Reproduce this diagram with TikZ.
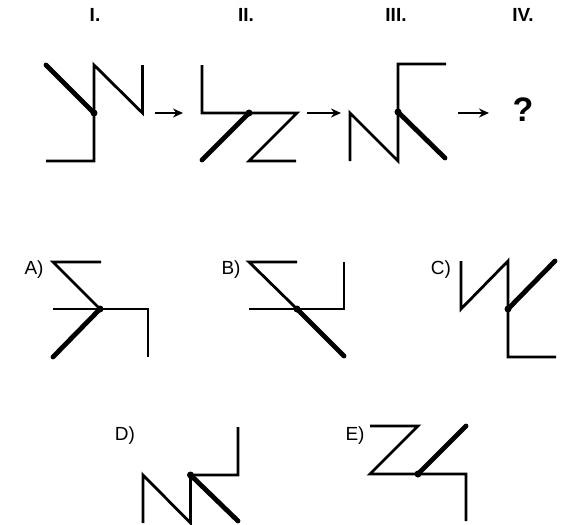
\documentclass[tikz,border=0pt]{standalone}
\usepackage{fontspec}
\setmainfont{Liberation Sans}
\usetikzlibrary{arrows.meta}
\begin{document}
\begin{tikzpicture}[x=1pt,y=-1pt,
  thin/.style={line width=2.8pt,line cap=butt,line join=miter},
  thick/.style={line width=4.8pt,line cap=round},
  joint/.style={circle,fill=black,inner sep=0pt,minimum size=7pt},
  nextarrow/.style={line width=1.6pt,-{Stealth[length=10pt,width=9pt]}},
  roman/.style={font=\bfseries\fontsize{19}{19}\selectfont,inner sep=0pt},
  optlabel/.style={font=\fontsize{19}{19}\selectfont,inner sep=0pt},
  qmark/.style={font=\bfseries\fontsize{34}{34}\selectfont,inner sep=0pt}]
\useasboundingbox (0,0) rectangle (566,525);
% column labels
\node[roman] (l1) at (95,15) {I.};
\node[roman] (l2) at (246,15) {II.};
\node[roman] (l3) at (396,15) {III.};
\node[roman] (l4) at (523,15) {IV.};
% Figure I
\draw[thin] (46,161) -- (94,161) -- (94,65) -- (142.5,113) -- (142.5,65);
\draw[thick] (46,65) -- (94,113);
\node[joint] (j1) at (94,113) {};
% arrow 1
\coordinate (a1s) at (155,113); \coordinate (a1e) at (183,113);
\draw[nextarrow] (a1s) -- (a1e);
% Figure II
\draw[thin] (202,65) -- (202,113) -- (297,113) -- (249,161) -- (296,161);
\draw[thick] (249,113) -- (202,160);
\node[joint] (j2) at (249,113) {};
% arrow 2
\coordinate (a2s) at (307,113); \coordinate (a2e) at (341,113);
\draw[nextarrow] (a2s) -- (a2e);
% Figure III
\draw[thin] (350,161) -- (350,113) -- (398,161) -- (398,64) -- (446,64);
\draw[thick] (398,112) -- (445,158);
\node[joint] (j3) at (398,112) {};
% arrow 3
\coordinate (a3s) at (458,113); \coordinate (a3e) at (489,113);
\draw[nextarrow] (a3s) -- (a3e);
\node[qmark] (q) at (523,110) {?};
% Option A
\node[optlabel] (la) at (34,270) {A)};
\draw[thin] (101,262) -- (53,262) -- (100,309);
\draw[thin] (53,309) -- (148,309) -- (148,357);
\draw[thick] (100,309) -- (53,357);
\node[joint] (ja) at (100,309) {};
% Option B
\node[optlabel] (lb) at (231,270) {B)};
\draw[thin] (297,262) -- (249,262) -- (297,309);
\draw[thin] (249,309) -- (344,309) -- (344,262);
\draw[thick] (297,309) -- (344,356);
\node[joint] (jb) at (297,309) {};
% Option C
\node[optlabel] (lc) at (441,270) {C)};
\draw[thin] (461,261) -- (461,309) -- (508,261) -- (508,357) -- (556,357);
\draw[thick] (508,309) -- (555,261);
\node[joint] (jc) at (508,309) {};
% Option D
\node[optlabel] (ld) at (125,436) {D)};
\draw[thin] (143,523) -- (143,475) -- (190.5,523) -- (190.5,475) -- (238,475) -- (238,427);
\draw[thick] (190.5,475) -- (238,521);
\node[joint] (jd) at (190.5,475) {};
% Option E
\node[optlabel] (le) at (355,436) {E)};
\draw[thin] (370,426) -- (418,426) -- (370,474) -- (466,474) -- (466,521);
\draw[thick] (418,474) -- (466,426);
\node[joint] (je) at (418,474) {};
\end{tikzpicture}
\end{document}
